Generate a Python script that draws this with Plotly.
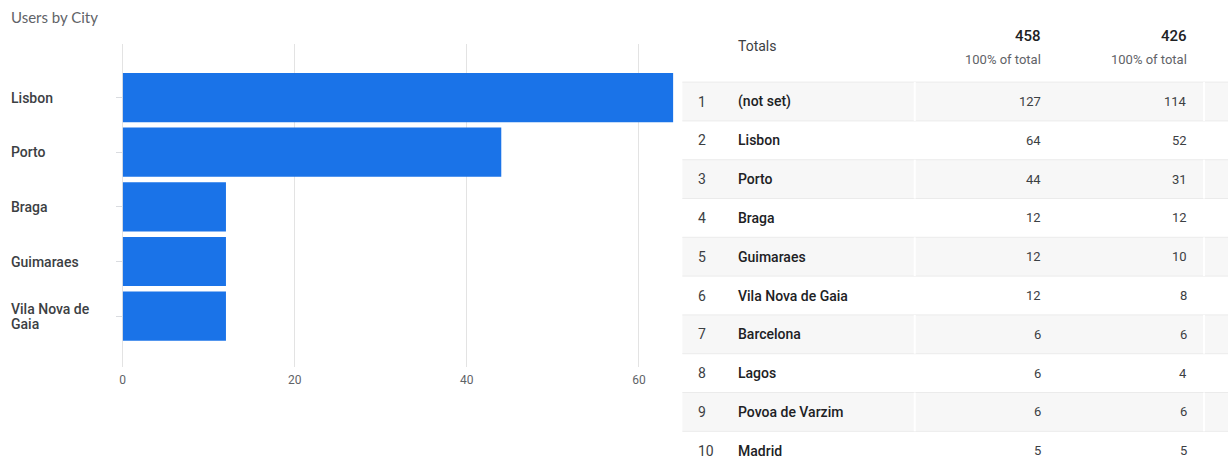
import plotly.graph_objects as go

# ---- data ----
chart_title = "Users by City"
bar_cities = ["Lisbon", "Porto", "Braga", "Guimaraes", "Vila Nova de Gaia"]
bar_label_lines = [["Lisbon"], ["Porto"], ["Braga"], ["Guimaraes"], ["Vila Nova de", "Gaia"]]
bar_users = [64, 44, 12, 12, 12]
x_ticks = [0, 20, 40, 60]

table_ranks = [1, 2, 3, 4, 5, 6, 7, 8, 9, 10]
table_cities = ["(not set)", "Lisbon", "Porto", "Braga", "Guimaraes", "Vila Nova de Gaia",
                "Barcelona", "Lagos", "Povoa de Varzim", "Madrid"]
table_col1 = [127, 64, 44, 12, 12, 12, 6, 6, 6, 5]
table_col2 = [114, 52, 31, 12, 10, 8, 6, 4, 6, 5]
totals_label = "Totals"
total_col1 = 458
total_col2 = 426
total_sub = "100% of total"

W, H = 1228, 461
BLUE = "#1a73e8"
GRID = "#e3e3e3"
TXT = "#3c4043"
SUB = "#5f6368"

fig = go.Figure()

fig.add_trace(go.Bar(
    x=bar_users, y=bar_cities, orientation="h",
    marker=dict(color=BLUE, line=dict(width=0)),
    width=0.9, hoverinfo="skip", showlegend=False,
    xaxis="x", yaxis="y",
))

# invisible trace to activate the table axes
fig.add_trace(go.Scatter(x=[0], y=[0], mode="markers", marker=dict(opacity=0),
                         xaxis="x2", yaxis="y2", showlegend=False, hoverinfo="skip"))

plot_left, plot_right = 120, 672
plot_top, plot_bot = 44, 367

fig.update_layout(
    width=W, height=H,
    margin=dict(l=0, r=0, t=0, b=0),
    paper_bgcolor="white", plot_bgcolor="rgba(0,0,0,0)",
    font=dict(family="Roboto", color=TXT),
    xaxis=dict(
        domain=[plot_left / W, plot_right / W],
        range=[0, 64], tickvals=x_ticks, showgrid=True, gridcolor=GRID, gridwidth=1,
        zeroline=True, zerolinecolor=GRID, zerolinewidth=1,
        showline=False, ticks="", tickfont=dict(family="Roboto", size=12, color=SUB),
        ticklabelstandoff=4, anchor="y",
    ),
    yaxis=dict(
        domain=[(H - plot_bot) / H, (H - plot_top) / H],
        type="category", categoryarray=bar_cities,
        range=[4.93, -0.98], showticklabels=False, showgrid=False, zeroline=False,
        ticks="outside", ticklen=6, tickcolor="#dadce0", tickwidth=1,
        showline=False, anchor="x",
    ),
    xaxis2=dict(domain=[0, 1], range=[0, W], visible=False, anchor="y2"),
    yaxis2=dict(domain=[0, 1], range=[10.265, -1.616], visible=False, anchor="x2"),
)

ann = []
shapes = []

# title
ann.append(dict(text=chart_title, xref="paper", yref="paper", x=6 / W, y=1 - 17 / H,
                xanchor="left", yanchor="middle", showarrow=False,
                font=dict(family="Lato", size=15, color=SUB)))

# category labels (left aligned)
for city, lines in zip(bar_cities, bar_label_lines):
    n = len(lines)
    for i, line in enumerate(lines):
        shift = (n - 1) * 7.5 - i * 15.5
        ann.append(dict(text=line, xref="paper", yref="y", x=6 / W, y=city, yshift=shift,
                        xanchor="left", yanchor="middle", align="left", showarrow=False,
                        font=dict(family="Roboto", size=14, color=TXT, weight=500)))

# table
tx0, tx1 = 681, W
div1, div2 = 914, 1204
for r in table_ranks:
    if r % 2 == 1:
        shapes.append(dict(type="rect", xref="x2", yref="y2", x0=tx0, x1=tx1,
                           y0=r - 0.5, y1=r + 0.5, fillcolor="#f7f7f7",
                           line=dict(width=0), layer="below"))
        for yy in (r - 0.5, r + 0.5):
            shapes.append(dict(type="line", xref="x2", yref="y2", x0=tx0, x1=tx1,
                               y0=yy, y1=yy, line=dict(color="#ebebeb", width=1),
                               layer="below"))
        for xx in (div1, div2):
            shapes.append(dict(type="line", xref="x2", yref="y2", x0=xx, x1=xx,
                               y0=r - 0.5, y1=r + 0.5, line=dict(color="#ffffff", width=2),
                               layer="below"))

for r, c, v1, v2 in zip(table_ranks, table_cities, table_col1, table_col2):
    ann.append(dict(text=str(r), xref="x2", yref="y2", x=695, y=r, xanchor="left",
                    yanchor="middle", showarrow=False,
                    font=dict(family="Roboto", size=14, color=TXT)))
    ann.append(dict(text=c, xref="x2", yref="y2", x=735, y=r, xanchor="left",
                    yanchor="middle", showarrow=False,
                    font=dict(family="Roboto", size=14, color="#202124", weight=500)))
    ann.append(dict(text=str(v1), xref="x2", yref="y2", x=1043, y=r, xanchor="right",
                    yanchor="middle", showarrow=False,
                    font=dict(family="Roboto", size=13, color=TXT)))
    ann.append(dict(text=str(v2), xref="x2", yref="y2", x=1189, y=r, xanchor="right",
                    yanchor="middle", showarrow=False,
                    font=dict(family="Roboto", size=13, color=TXT)))

# header
ann.append(dict(text=totals_label, xref="x2", yref="y2", x=735, y=-0.43, xanchor="left",
                yanchor="middle", showarrow=False,
                font=dict(family="Roboto", size=14, color=TXT)))
for xv, tot in ((1043, total_col1), (1189, total_col2)):
    ann.append(dict(text=str(tot), xref="x2", yref="y2", x=xv, y=-0.69, xanchor="right",
                    yanchor="middle", showarrow=False,
                    font=dict(family="Roboto", size=15, color="#202124", weight=500)))
    ann.append(dict(text=total_sub, xref="x2", yref="y2", x=xv, y=-0.095, xanchor="right",
                    yanchor="middle", showarrow=False,
                    font=dict(family="Roboto", size=13, color=SUB)))

fig.update_layout(annotations=ann, shapes=shapes)

fig.write_html("out.html")
